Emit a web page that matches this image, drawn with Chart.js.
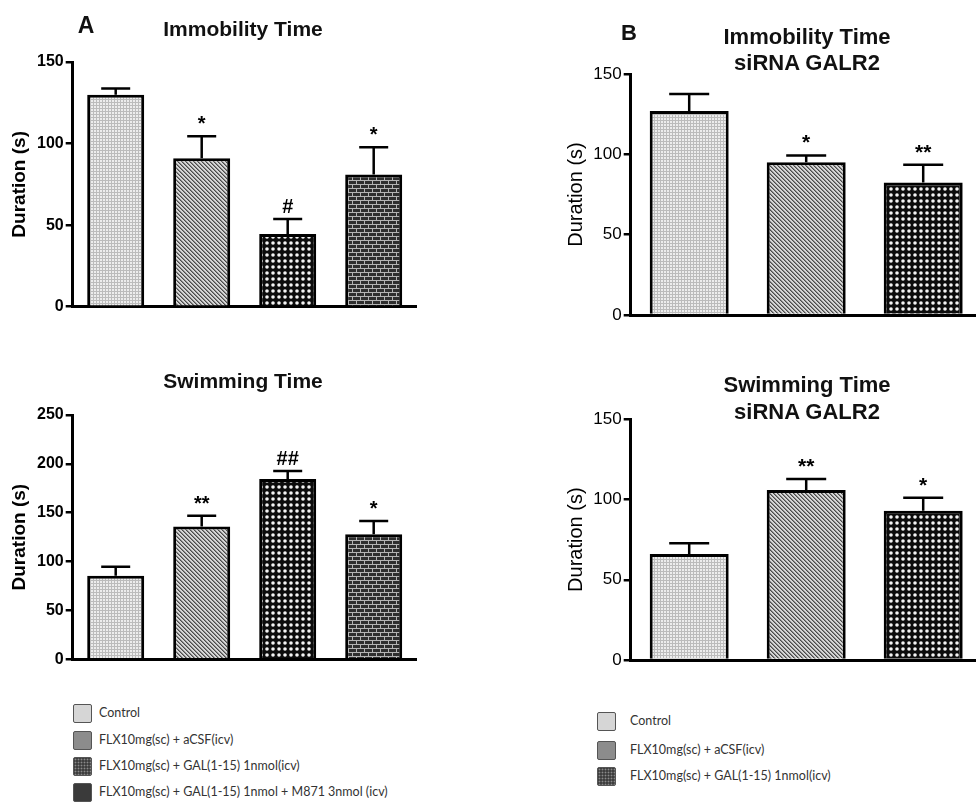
<!DOCTYPE html>
<html><head><meta charset="utf-8">
<script src="https://cdn.jsdelivr.net/npm/chart.js@4.4.0/dist/chart.umd.min.js"></script>
<style>
html,body{margin:0;padding:0;background:#fff;width:976px;height:804px;overflow:hidden;position:relative;font-family:"Liberation Sans",Arial,sans-serif;}
canvas.c{position:absolute;}
.t{position:absolute;transform:translate(-50%,-50%);font-weight:bold;white-space:nowrap;color:#111;text-align:center;line-height:1;}
.lg{position:absolute;font-family:Lato,"Open Sans",sans-serif;font-size:12.5px;color:#333;white-space:nowrap;}
.lg .row{position:absolute;left:0;height:19px;}
.lg .box{position:absolute;left:0;top:0;width:17px;height:17px;border:1px solid #555;border-radius:2px;}
.lg .txt{position:absolute;top:1px;white-space:nowrap;}
</style>
</head><body>
<canvas id="cA1" class="c" width="440" height="330" style="left:0;top:0"></canvas>
<canvas id="cA2" class="c" width="440" height="340" style="left:0;top:340px"></canvas>
<canvas id="cB1" class="c" width="520" height="330" style="left:480px;top:0"></canvas>
<canvas id="cB2" class="c" width="520" height="340" style="left:480px;top:340px"></canvas>

<div class="t" style="left:86px;top:25px;font-size:23px">A</div>
<div class="t" style="left:243px;top:28px;font-size:21px">Immobility Time</div>
<div class="t" style="left:243px;top:380px;font-size:21px">Swimming Time</div>
<div class="t" style="left:629px;top:33px;font-size:22px">B</div>
<div class="t" style="left:807px;top:37px;font-size:22px">Immobility Time</div>
<div class="t" style="left:807px;top:63px;font-size:22px">siRNA GALR2</div>
<div class="t" style="left:807px;top:385px;font-size:22px">Swimming Time</div>
<div class="t" style="left:807px;top:412px;font-size:22px">siRNA GALR2</div>

<div id="legA" class="lg" style="left:73px;top:0"></div>
<div id="legB" class="lg" style="left:597px;top:0"></div>

<script>
// ---- data ----
const categoriesA = ['Control', 'FLX10mg(sc) + aCSF(icv)', 'FLX10mg(sc) + GAL(1-15) 1nmol(icv)', 'FLX10mg(sc) + GAL(1-15) 1nmol + M871 3nmol (icv)'];
const categoriesB = ['Control', 'FLX10mg(sc) + aCSF(icv)', 'FLX10mg(sc) + GAL(1-15) 1nmol(icv)'];

const immobA = [130, 91, 44.5, 81];
const immobAErr = [3.7, 13.5, 9.3, 16.7];
const immobASig = ['', '*', '#', '*'];

const swimA = [85.5, 136, 184.5, 128];
const swimAErr = [9.2, 10.8, 8.3, 13.4];
const swimASig = ['', '**', '##', '*'];

const immobB = [127, 95, 82.5];
const immobBErr = [10.6, 4.3, 11];
const immobBSig = ['', '*', '**'];

const swimB = [66, 106, 93];
const swimBErr = [6.7, 6.8, 8.1];
const swimBSig = ['', '**', '*'];

const ticksImmob = [0, 50, 100, 150];
const ticksSwimA = [0, 50, 100, 150, 200, 250];

// ---- patterns ----
function pat(w, h, draw) {
  const c = document.createElement('canvas'); c.width = w; c.height = h;
  const g = c.getContext('2d'); draw(g, w, h);
  return g.createPattern(c, 'repeat');
}
const pLight = pat(3, 3, g => { g.fillStyle = '#bcbcbc'; g.fillRect(0, 0, 3, 3); g.fillStyle = '#ededed'; g.fillRect(1, 1, 2, 2); });
const pHatch = pat(4, 4, g => {
  g.fillStyle = '#d6d6d6'; g.fillRect(0, 0, 4, 4);
  for (let i = 0; i < 4; i++) {
    g.fillStyle = '#4a4a4a'; g.fillRect(i, i, 1, 1);
    g.fillStyle = '#8a8a8a'; g.fillRect((i + 1) % 4, i, 1, 1);
  }
});
const pDots = pat(6, 6, g => {
  g.fillStyle = '#0c0c0c'; g.fillRect(0, 0, 6, 6); g.fillStyle = '#f4f4f4';
  g.beginPath(); g.arc(3, 3, 1.8, 0, Math.PI * 2); g.fill();
});
const pBrick = pat(16, 8, g => {
  g.fillStyle = '#2e2e2e'; g.fillRect(0, 0, 16, 8); g.fillStyle = '#b4b4b4';
  g.fillRect(0, 0, 16, 1); g.fillRect(0, 4, 16, 1);
  g.fillRect(0, 0, 1, 4); g.fillRect(8, 0, 1, 4); g.fillRect(4, 4, 1, 4); g.fillRect(12, 4, 1, 4);
});
const fillsA = [pLight, pHatch, pDots, pBrick];
const fillsB = [pLight, pHatch, pDots];

// ---- error bar + significance plugin ----
const errPlugin = {
  id: 'errBars',
  afterDatasetsDraw(chart) {
    const ds = chart.data.datasets[0];
    const meta = chart.getDatasetMeta(0), ys = chart.scales.y, ctx = chart.ctx;
    ctx.save();
    ctx.strokeStyle = '#000'; ctx.lineWidth = ds.errLw;
    meta.data.forEach((bar, i) => {
      const yTop = ys.getPixelForValue(ds.data[i] + ds.errs[i]);
      ctx.beginPath();
      ctx.moveTo(bar.x, bar.y); ctx.lineTo(bar.x, yTop);
      ctx.moveTo(bar.x - ds.cap / 2, yTop); ctx.lineTo(bar.x + ds.cap / 2, yTop);
      ctx.stroke();
      if (ds.sig[i]) {
        ctx.fillStyle = '#000'; ctx.font = ds.sigFont; ctx.textAlign = 'center'; ctx.textBaseline = 'alphabetic';
        ctx.fillText(ds.sig[i], bar.x, yTop - ds.sigGap);
      }
    });
    ctx.restore();
  }
};

function makeChart(id, c) {
  return new Chart(document.getElementById(id), {
    type: 'bar',
    data: {
      labels: c.labels,
      datasets: [{
        data: c.values, errs: c.errs, sig: c.sig, cap: c.cap, errLw: 2.5, sigFont: c.sigFont, sigGap: c.sigGap,
        backgroundColor: c.fills, borderColor: '#000', borderWidth: 3, borderSkipped: 'start',
        barPercentage: c.barPct, categoryPercentage: 1
      }]
    },
    options: {
      responsive: false, animation: false, devicePixelRatio: 1,
      layout: { padding: c.pad },
      plugins: { legend: { display: false }, tooltip: { enabled: false }, title: { display: false } },
      scales: {
        x: {
          grid: { display: false, drawTicks: false }, ticks: { display: false },
          border: { display: true, color: '#000', width: 3 },
          afterFit: s => { s.height = 0; }
        },
        y: {
          min: 0, max: c.ticks[c.ticks.length - 1],
          afterBuildTicks: s => { s.ticks = c.ticks.map(v => ({ value: v })); },
          ticks: { color: '#000', font: c.tickFont, padding: 2 },
          grid: { display: true, drawOnChartArea: false, drawTicks: true, tickLength: 7, color: '#000', lineWidth: 2.5 },
          border: { display: true, color: '#000', width: 3 },
          title: { display: true, text: 'Duration (s)', color: '#000', font: c.titleFont, padding: { top: c.titlePad, bottom: 0 } },
          afterFit: s => { s.width = c.yw; }
        }
      }
    },
    plugins: [errPlugin]
  });
}

const fontA = { family: '"Liberation Sans", Arial, sans-serif', size: 16, weight: 'bold' };
const titleA = { family: '"Liberation Sans", Arial, sans-serif', size: 19, weight: 'bold' };
const fontB = { family: '"Liberation Sans", Arial, sans-serif', size: 17, weight: 'normal' };
const titleB = { family: '"Liberation Sans", Arial, sans-serif', size: 20, weight: 'normal' };

makeChart('cA1', { labels: categoriesA, values: immobA, errs: immobAErr, sig: immobASig, fills: fillsA, ticks: ticksImmob,
  cap: 29, sigFont: 'bold 20px "Liberation Sans", Arial', sigGap: 6, barPct: 0.663,
  pad: { left: 0, top: 62, right: 23.3, bottom: 23.3 }, yw: 72.7, tickFont: fontA, titleFont: titleA, titlePad: 8.6 });
makeChart('cA2', { labels: categoriesA, values: swimA, errs: swimAErr, sig: swimASig, fills: fillsA, ticks: ticksSwimA,
  cap: 29, sigFont: 'bold 20px "Liberation Sans", Arial', sigGap: 6, barPct: 0.663,
  pad: { left: 0, top: 75, right: 23.3, bottom: 20.7 }, yw: 72.7, tickFont: fontA, titleFont: titleA, titlePad: 8.6 });
makeChart('cB1', { labels: categoriesB, values: immobB, errs: immobBErr, sig: immobBSig, fills: fillsB, ticks: ticksImmob,
  cap: 40, sigFont: 'bold 21px "Liberation Sans", Arial', sigGap: 6, barPct: 0.675,
  pad: { left: 0, top: 74, right: 18.3, bottom: 15 }, yw: 150.7, tickFont: fontB, titleFont: titleB, titlePad: 84.7 });
makeChart('cB2', { labels: categoriesB, values: swimB, errs: swimBErr, sig: swimBSig, fills: fillsB, ticks: ticksImmob,
  cap: 40, sigFont: 'bold 21px "Liberation Sans", Arial', sigGap: 6, barPct: 0.675,
  pad: { left: 0, top: 79.3, right: 18.3, bottom: 20 }, yw: 150.7, tickFont: fontB, titleFont: titleB, titlePad: 84.7 });

// ---- legends (HTML) ----
const legendBoxes = [
  'background:#d6d6d6;',
  'background:#8c8c8c;',
  'background:radial-gradient(circle, #8a8a8a 0.8px, transparent 1.1px) 0 0/3px 3px, #3e3e3e;',
  'background:#3a3a3a;'
];
function buildLegend(id, cats, rowsY, textX) {
  const el = document.getElementById(id);
  cats.forEach((name, i) => {
    const r = document.createElement('div'); r.className = 'row'; r.style.top = (rowsY[i] - 9) + 'px';
    r.innerHTML = '<div class="box" style="' + legendBoxes[i] + '"></div><div class="txt" style="left:' + textX + 'px">' + name + '</div>';
    el.appendChild(r);
  });
}
buildLegend('legA', categoriesA, [713, 740, 766, 792], 26);
buildLegend('legB', categoriesB, [721, 750, 776], 33);
</script>
</body></html>
